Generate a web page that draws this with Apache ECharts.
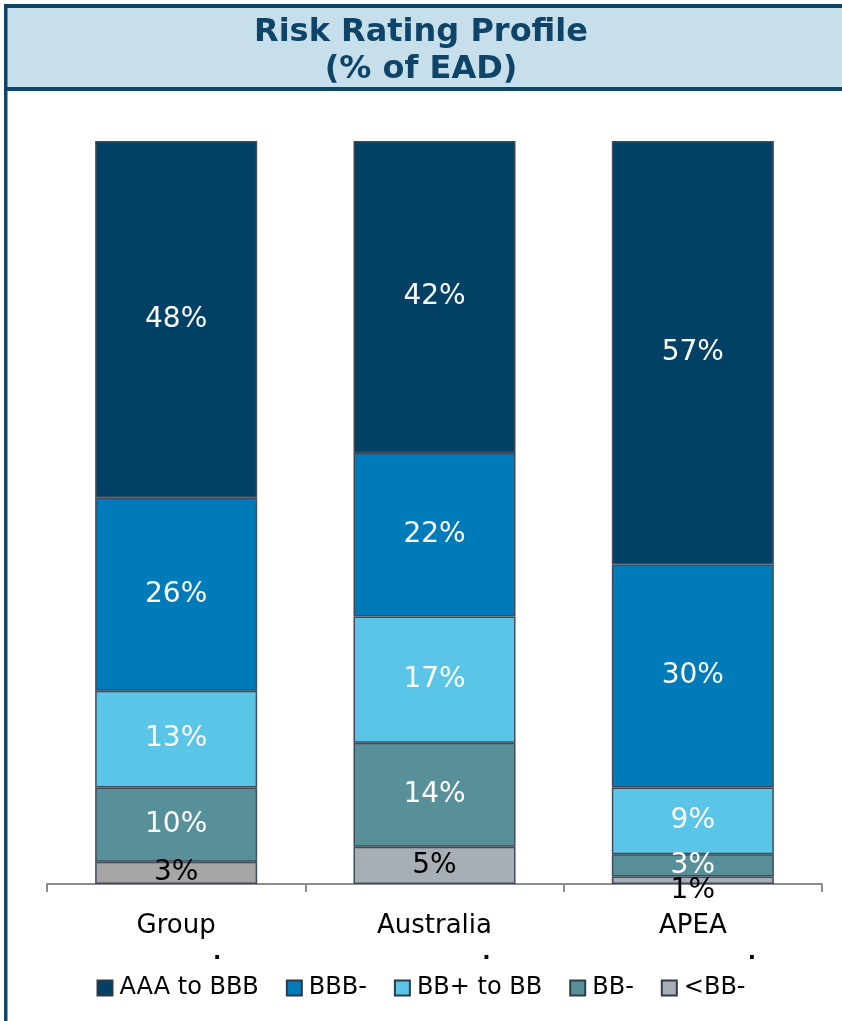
<!DOCTYPE html>
<html>
<head>
<meta charset="utf-8">
<script src="https://cdn.jsdelivr.net/npm/echarts@6/dist/echarts.min.js"></script>
<style>
  html, body { margin: 0; padding: 0; background: #fff; }
  #chart { width: 842px; height: 1021px; }
</style>
</head>
<body>
<div id="chart"></div>
<script>
// categories and values (% of EAD)
const regions = ['Group', 'Australia', 'APEA'];
const ratingNames = ['AAA to BBB', 'BBB-', 'BB+ to BB', 'BB-', '<BB-'];
const aaaToBbb = [48, 42, 57];
const bbbMinus = [26, 22, 30];
const bbPlusToBb = [13, 17, 9];
const bbMinus = [10, 14, 3];
const belowBbMinus = [3, 5, 1];

const colors = ['#004165', '#007bba', '#5bc5e7', '#58909a', '#a8aeb6'];
const edge = '#3f4b5a';
const font = 'DejaVu Sans, Verdana, sans-serif';

let chart = echarts.init(document.getElementById('chart'));

function makeSeries(name, values, idx) {
  let dark = idx < 4;
  let data = values.map(function (v, i) {
    let d = { value: v };
    // group's smallest slice is plain grey in the source
    if (idx === 4 && i === 0) {
      d.itemStyle = { color: '#a6a6a6' };
    }
    // apea 1% sits just under the bar
    if (idx === 4 && i === 2) {
      d.label = { offset: [0, 10] };
    }
    return d;
  });
  return {
    name: name,
    type: 'bar',
    stack: 'total',
    barWidth: 162,
    data: data,
    itemStyle: { color: colors[idx], borderColor: edge, borderWidth: 1.5 },
    label: {
      show: true,
      position: 'inside',
      formatter: '{c}%',
      color: dark ? '#ffffff' : '#000000',
      fontFamily: font,
      fontSize: 28
    },
    emphasis: { disabled: true }
  };
}

const allValues = [aaaToBbb, bbbMinus, bbPlusToBb, bbMinus, belowBbMinus];
// stack from the bottom: <BB- first, AAA to BBB on top
let series = [];
for (let i = ratingNames.length - 1; i >= 0; i--) {
  series.push(makeSeries(ratingNames[i], allValues[i], i));
}

chart.setOption({
  animation: false,
  backgroundColor: '#ffffff',
  title: {
    text: 'Risk Rating Profile\n(% of EAD)',
    left: 'center',
    top: 9,
    textStyle: {
      fontFamily: font,
      fontWeight: 'bold',
      fontSize: 32,
      lineHeight: 37,
      color: '#0d4468'
    }
  },
  graphic: [
    { type: 'rect', shape: { x: 4, y: 4, width: 842, height: 87 }, style: { fill: '#c6dfea' }, z: -1 },
    { type: 'rect', shape: { x: 4, y: 4, width: 842, height: 4 }, style: { fill: '#0d4468' }, z: 0 },
    { type: 'rect', shape: { x: 4, y: 87, width: 842, height: 4 }, style: { fill: '#0d4468' }, z: 0 },
    { type: 'rect', shape: { x: 4, y: 4, width: 3.5, height: 1021 }, style: { fill: '#0d4468' }, z: 0 }
  ],
  legend: {
    data: ratingNames,
    bottom: 16,
    left: 'center',
    icon: 'rect',
    itemWidth: 15,
    itemHeight: 15,
    itemGap: 27,
    itemStyle: { borderColor: '#2f3b48', borderWidth: 2 },
    textStyle: { fontFamily: font, fontSize: 24, color: '#000', padding: [0, 0, 0, 2] }
  },
  grid: { left: 47, right: 20, top: 141, bottom: 137 },
  xAxis: {
    type: 'category',
    data: regions,
    axisLine: { lineStyle: { color: '#8c8c8c', width: 2 } },
    axisTick: { show: true, length: 8, lineStyle: { color: '#8c8c8c', width: 2 } },
    axisLabel: {
      interval: 0,
      margin: 28,
      formatter: function (v, i) { return '{n|' + v + '}\n{d' + i + '|.}'; },
      rich: {
        n: { fontFamily: font, fontSize: 26, color: '#000', lineHeight: 28 },
        d0: { fontFamily: font, fontSize: 22, fontWeight: 'bold', color: '#000', lineHeight: 26, padding: [0, 0, 0, 82] },
        d1: { fontFamily: font, fontSize: 22, fontWeight: 'bold', color: '#000', lineHeight: 26, padding: [0, 0, 0, 104] },
        d2: { fontFamily: font, fontSize: 22, fontWeight: 'bold', color: '#000', lineHeight: 26, padding: [0, 0, 0, 118] }
      }
    }
  },
  yAxis: {
    type: 'value',
    min: 0,
    max: 100,
    show: false,
    splitLine: { show: false }
  },
  series: series
});
</script>
</body>
</html>
